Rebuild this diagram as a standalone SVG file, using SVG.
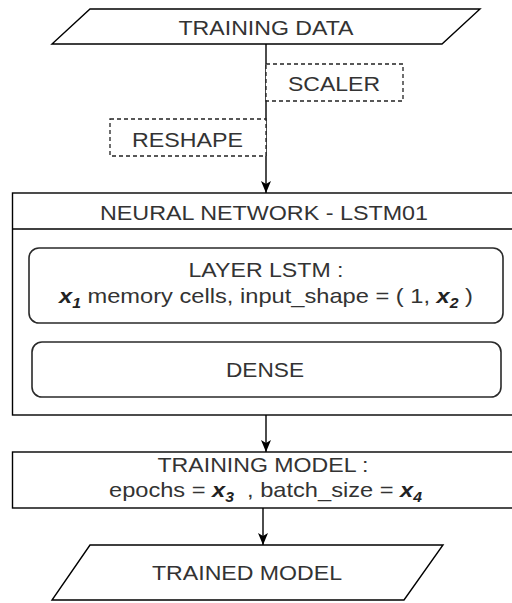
<svg xmlns="http://www.w3.org/2000/svg" width="512" height="603" viewBox="0 0 512 603">
<style>
.s{fill:#fff;stroke:#000;stroke-width:1.4}
.d{fill:#fff;stroke:#222;stroke-width:1.3;stroke-dasharray:4 3}
.r{fill:#fff;stroke:#2a2a2a;stroke-width:1.6}
text{font-family:"Liberation Sans",Arial,sans-serif;font-size:21px;fill:#333;text-anchor:middle}
.v{font-weight:bold;font-style:italic;fill:#222}
.sub{font-size:14px}
.c{fill:none;stroke:#000;stroke-width:1.4}
</style>
<defs>
<marker id="a" viewBox="0 0 12 10" refX="12" refY="5" markerWidth="12" markerHeight="10" markerUnits="userSpaceOnUse" orient="auto">
<path d="M0,0 L12,5 L0,10 L3,5 z" fill="#000"/>
</marker>
</defs>
<rect width="512" height="603" fill="#fff"/>
<g id="connectors">
<path class="c" d="M266,44 V193" marker-end="url(#a)"/>
<path class="c" d="M266,415 V452" marker-end="url(#a)"/>
<path class="c" d="M263,508 V545" marker-end="url(#a)"/>
</g>
<g id="training-data">
<polygon class="s" points="90,9 480,9 442,44 52,44"/>
<text x="266" y="35" textLength="175" lengthAdjust="spacingAndGlyphs">TRAINING DATA</text>
</g>
<g id="scaler">
<rect class="d" x="266" y="64" width="137" height="37"/>
<text x="334" y="90.5" textLength="92" lengthAdjust="spacingAndGlyphs">SCALER</text>
</g>
<g id="reshape">
<rect class="d" x="110" y="119" width="156" height="37"/>
<text x="187.5" y="146.5" textLength="111" lengthAdjust="spacingAndGlyphs">RESHAPE</text>
</g>
<g id="neural-network">
<rect class="s" x="12.5" y="193" width="510" height="222"/>
<line class="s" x1="12.5" y1="229" x2="522" y2="229"/>
<text x="264" y="220" textLength="328" lengthAdjust="spacingAndGlyphs">NEURAL NETWORK - LSTM01</text>
</g>
<g id="layer-lstm">
<rect class="r" x="29" y="248" width="474" height="75" rx="10" ry="10"/>
<text x="266" y="277" textLength="155" lengthAdjust="spacingAndGlyphs">LAYER LSTM :</text>
<text x="266" y="303" textLength="414" lengthAdjust="spacingAndGlyphs"><tspan class="v">x</tspan><tspan class="v sub" dy="5">1</tspan><tspan dy="-5"> memory cells, input_shape = ( 1, </tspan><tspan class="v">x</tspan><tspan class="v sub" dy="5">2</tspan><tspan dy="-5"> )</tspan></text>
</g>
<g id="dense">
<rect class="r" x="32" y="342" width="469" height="55" rx="10" ry="10"/>
<text x="265" y="377" textLength="78" lengthAdjust="spacingAndGlyphs">DENSE</text>
</g>
<g id="training-model">
<rect class="s" x="12.5" y="452" width="510" height="56"/>
<text x="263" y="472" textLength="211" lengthAdjust="spacingAndGlyphs">TRAINING MODEL :</text>
<text x="265.5" y="497" textLength="313" lengthAdjust="spacingAndGlyphs" xml:space="preserve">epochs = <tspan class="v">x</tspan><tspan class="v sub" dy="5">3</tspan><tspan dy="-5">  , batch_size = </tspan><tspan class="v">x</tspan><tspan class="v sub" dy="5">4</tspan></text>
</g>
<g id="trained-model">
<polygon class="s" points="90,545 443,545 404,600 52,600"/>
<text x="247" y="580" textLength="190" lengthAdjust="spacingAndGlyphs">TRAINED MODEL</text>
</g>
</svg>
